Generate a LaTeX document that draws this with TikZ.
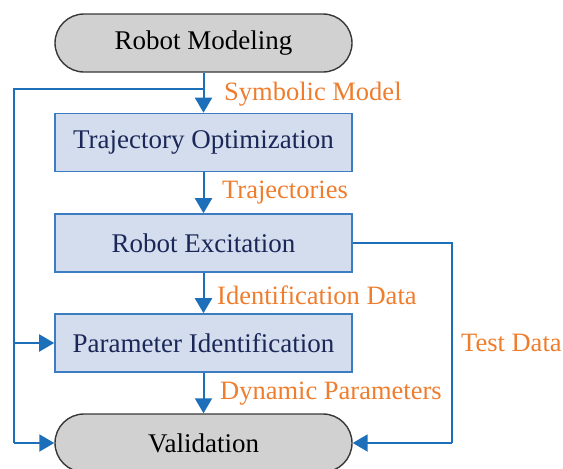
\documentclass[tikz,border=0pt]{standalone}
\usepackage{fontspec}
\setmainfont{LiberationSerif}[Extension=.ttf, UprightFont=*-Regular, BoldFont=*-Bold, ItalicFont=*-Italic]
\usetikzlibrary{arrows.meta,shapes.misc}
\definecolor{lblue}{HTML}{1D6FBA}
\definecolor{bfill}{HTML}{D3DDEE}
\definecolor{bdraw}{HTML}{3C7DC2}
\definecolor{navy}{HTML}{1A2757}
\definecolor{pfill}{HTML}{D1D1D1}
\definecolor{pdraw}{HTML}{383838}
\definecolor{orng}{HTML}{EE7D2E}
\begin{document}
\begin{tikzpicture}[x=1pt,y=-1pt,
  pill/.style={rounded rectangle, draw=pdraw, fill=pfill, line width=1.4pt,
    minimum width=297pt, minimum height=58pt, inner sep=0pt,
    font=\fontsize{27}{32}\selectfont, text=black},
  box/.style={rectangle, draw=bdraw, fill=bfill, line width=1.6pt,
    minimum width=297pt, minimum height=58pt, inner sep=0pt,
    font=\fontsize{27}{32}\selectfont, text=navy},
  ln/.style={draw=lblue, line width=2pt},
  arr/.style={ln, -{Triangle[length=15pt,width=17pt]}},
  lbl/.style={anchor=west, inner sep=0pt, text=orng, font=\fontsize{26.5}{30}\selectfont}]
\useasboundingbox (0,0) rectangle (563,469);
\begin{scope}
\clip (0,0) rectangle (563,469);
\node[pill] (rm) at (203.5,43) {Robot Modeling};
\node[box] (to) at (203.5,142.5) {Trajectory Optimization};
\node[box] (re) at (203.5,243) {Robot Excitation};
\node[box] (pi) at (203.5,343) {Parameter Identification};
\node[pill] (va) at (203.5,443) {Validation};
\end{scope}
\coordinate (j) at (203.5,89);
\coordinate (lc) at (14,89);
\coordinate (lp) at (14,343);
\coordinate (lv) at (14,443);
\coordinate (rc) at (452,243);
\coordinate (rv) at (452,443);
\draw[arr] (rm.south) -- (to.north);
\draw[arr] (to.south) -- (re.north);
\draw[arr] (re.south) -- (pi.north);
\draw[arr] (pi.south) -- (va.north);
\draw[ln] (j) -- (lc) -- (lv);
\draw[arr] (lc |- lv) -- (va.west);
\draw[arr] (lp) -- (pi.west);
\draw[ln] (re.east) -- (rc) -- (rv);
\draw[arr] (rv) -- (va.east);
\node[lbl] (l1) at (224,94) {Symbolic Model};
\node[lbl] (l2) at (222,193) {Trajectories};
\node[lbl] (l3) at (217,295) {Identification Data};
\node[lbl] (l4) at (220,394) {Dynamic Parameters};
\node[lbl] (l5) at (461,343) {Test Data};
\end{tikzpicture}
\end{document}
